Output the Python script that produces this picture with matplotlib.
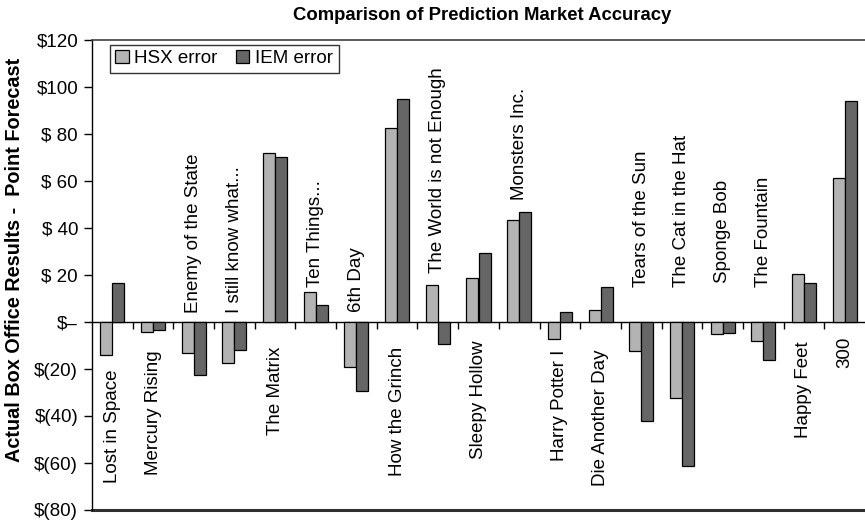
import numpy as np
import matplotlib
matplotlib.use("Agg")
from matplotlib import pyplot as plt
from matplotlib.ticker import FixedLocator

plt.rcParams['font.family'] = ['Liberation Sans', 'DejaVu Sans']

movies = ["Lost in Space", "Mercury Rising", "Enemy of the State", "I still know what...",
          "The Matrix", "Ten Things...", "6th Day", "How the Grinch",
          "The World is not Enough", "Sleepy Hollow", "Monsters Inc.", "Harry Potter I",
          "Die Another Day", "Tears of the Sun", "The Cat in the Hat", "Sponge Bob",
          "The Fountain", "Happy Feet", "300"]
hsx_error = [-14.0, -4.4, -13.3, -17.6, 71.8, 12.6, -19.3, 82.4, 15.7, 18.7,
             43.4, -7.4, 5.1, -12.2, -32.2, -5.1, -7.9, 20.3, 61.1]
iem_error = [16.5, -3.4, -22.5, -11.9, 70.4, 7.2, -29.4, 94.9, -9.5, 29.2,
             46.8, 4.4, 14.8, -42.0, -61.3, -4.8, -16.2, 16.5, 94.0]
ytick_vals = [120, 100, 80, 60, 40, 20, 0, -20, -40, -60, -80]
ytick_text = ["$120", "$100", "$ 80", "$ 60", "$ 40", "$ 20", "$\u2013",
              "$(20)", "$(40)", "$(60)", "$(80)"]

# where each movie name sits (above or below the zero line)
label_y = [-20.4, -11.9, 3.7, 3.7, -10.5, 15.0, 4.4, -10.5, 20.7, -7.7,
           51.9, -11.9, -11.9, 15.0, 15.0, 16.5, 15.0, -8.4, -6.3]

fig = plt.figure(figsize=(8.65, 5.21), dpi=100)
ax = fig.add_axes([92/865, 11/521, 773/865, 470/521])

x = np.arange(len(movies))
w = 0.295
ax.bar(x - w/2, hsx_error, w, color='#b3b3b3', edgecolor='black', linewidth=0.9,
       label='HSX error', zorder=3)
ax.bar(x + w/2, iem_error, w, color='#666666', edgecolor='black', linewidth=0.9,
       label='IEM error', zorder=3)

for i in range(len(movies)):
    va = 'bottom' if label_y[i] > 0 else 'top'
    ax.text(x[i], label_y[i], movies[i], rotation=90, ha='center', va=va,
            fontsize=13.5)

ax.set_xlim(-0.5, len(movies) - 0.5)
ax.set_ylim(-80, 120)
ax.set_yticks(ytick_vals)
ax.set_yticklabels(ytick_text, fontsize=13.5)
ax.tick_params(axis='y', direction='out', length=6, width=1, pad=4)

ax.spines['bottom'].set_position(('data', 0))
ax.spines['bottom'].set_linewidth(1)
ax.spines['right'].set_visible(False)
ax.spines['top'].set_color('#404040')
ax.spines['top'].set_linewidth(1.2)
ax.spines['left'].set_linewidth(1)
ax.xaxis.set_major_locator(FixedLocator(np.arange(0.5, len(movies) - 1, 1.0)))
ax.set_xticklabels([])
ax.tick_params(axis='x', direction='out', length=5, width=1)
ax.axhline(-80, color='#303030', linewidth=2.2, clip_on=False)

fig.text(15/865, 1 - 259.5/521, "Actual Box Office Results -  Point Forecast",
         rotation=90, ha='center', va='center', fontsize=14.3, fontweight='bold')
fig.text(482/865, 1 - 16/521, "Comparison of Prediction Market Accuracy",
         ha='center', va='center', fontsize=13.3, fontweight='bold')

leg = ax.legend(loc='upper left', bbox_to_anchor=(0.023, 0.99), ncol=2,
                fontsize=13.5, frameon=True, fancybox=False, handlelength=0.7,
                handleheight=0.7, handletextpad=0.3, columnspacing=1.0,
                borderpad=0.3, borderaxespad=0)
leg.get_frame().set_edgecolor('black')
leg.get_frame().set_linewidth(1)

fig.savefig("out.png", dpi=100)
